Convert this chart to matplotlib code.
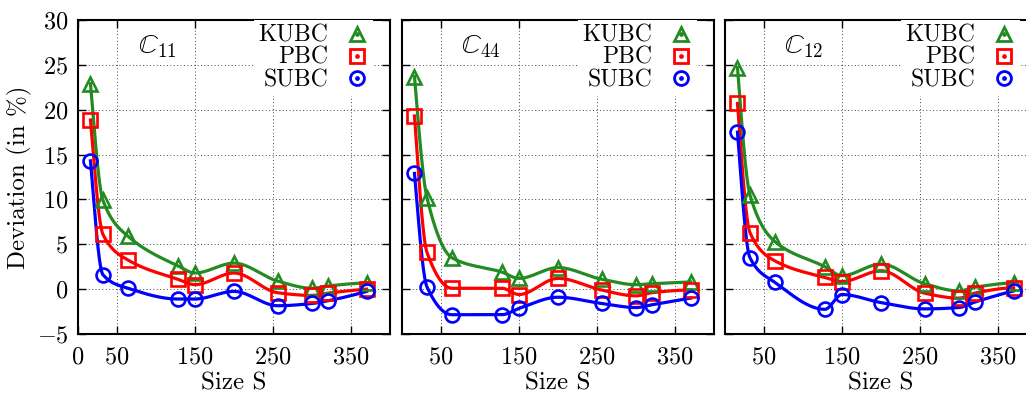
import numpy as np
import matplotlib
matplotlib.use("Agg")
import matplotlib.pyplot as plt
from matplotlib.lines import Line2D

plt.rcParams["font.family"] = ["cmr10", "DejaVu Serif"]
plt.rcParams["mathtext.fontset"] = "cm"
plt.rcParams["axes.formatter.use_mathtext"] = True

sizes = [16, 32, 64, 128, 150, 200, 256, 300, 320, 370]

c11_kubc = [22.9, 9.9, 5.9, 2.6, 1.8, 2.9, 0.9, 0.1, 0.35, 0.7]
c11_pbc = [18.85, 6.1, 3.25, 1.1, 0.5, 1.8, -0.4, -0.7, -0.45, 0.0]
c11_subc = [14.3, 1.6, 0.1, -1.1, -1.1, -0.25, -1.85, -1.6, -1.3, -0.25]

c44_kubc = [23.7, 10.2, 3.5, 1.9, 1.2, 2.4, 1.1, 0.5, 0.6, 0.8]
c44_pbc = [19.3, 4.1, 0.1, 0.1, -0.6, 1.2, -0.1, -0.75, -0.4, -0.1]
c44_subc = [12.9, 0.25, -2.85, -2.85, -2.15, -0.9, -1.6, -2.05, -1.75, -1.0]

c12_kubc = [24.7, 10.5, 5.3, 2.5, 1.5, 2.8, 0.6, -0.2, 0.2, 0.7]
c12_pbc = [20.7, 6.3, 3.15, 1.3, 0.85, 2.05, -0.45, -1.0, -0.45, 0.15]
c12_subc = [17.5, 3.5, 0.75, -2.25, -0.6, -1.5, -2.2, -2.05, -1.45, -0.2]

panel_titles = [r"$\mathbb{C}_{11}$", r"$\mathbb{C}_{44}$", r"$\mathbb{C}_{12}$"]
series_names = ["KUBC", "PBC", "SUBC"]
series_colors = ["#228b22", "#ff0000", "#0000ff"]
series_markers = ["^", "s", "o"]
yticks = [-5, 0, 5, 10, 15, 20, 25, 30]
xticks_first = [0, 50, 150, 250, 350]
xticks_other = [50, 150, 250, 350]


def pchip(x, y, xs):
    """Monotone piecewise cubic Hermite interpolation (Fritsch-Carlson)."""
    x = np.asarray(x, float)
    y = np.asarray(y, float)
    h = np.diff(x)
    d = np.diff(y) / h
    n = len(x)
    m = np.zeros(n)
    for k in range(1, n - 1):
        if d[k - 1] * d[k] > 0:
            w1 = 2 * h[k] + h[k - 1]
            w2 = h[k] + 2 * h[k - 1]
            m[k] = (w1 + w2) / (w1 / d[k - 1] + w2 / d[k])
    def end(h0, h1, d0, d1):
        v = ((2 * h0 + h1) * d0 - h0 * d1) / (h0 + h1)
        if np.sign(v) != np.sign(d0):
            v = 0.0
        elif np.sign(d0) != np.sign(d1) and abs(v) > abs(3 * d0):
            v = 3 * d0
        return v
    m[0] = end(h[0], h[1], d[0], d[1])
    m[-1] = end(h[-1], h[-2], d[-1], d[-2])
    idx = np.clip(np.searchsorted(x, xs) - 1, 0, n - 2)
    t = (xs - x[idx]) / h[idx]
    h00 = 2 * t**3 - 3 * t**2 + 1
    h10 = t**3 - 2 * t**2 + t
    h01 = -2 * t**3 + 3 * t**2
    h11 = t**3 - t**2
    return (h00 * y[idx] + h10 * h[idx] * m[idx]
            + h01 * y[idx + 1] + h11 * h[idx] * m[idx + 1])


W, H = 1026, 398
fig = plt.figure(figsize=(W / 100, H / 100), dpi=100)

lefts = [78, 402, 725]
ax_w = 312
ax_top, ax_bot = 20, 334

panels = [
    (c11_kubc, c11_pbc, c11_subc),
    (c44_kubc, c44_pbc, c44_subc),
    (c12_kubc, c12_pbc, c12_subc),
]

tick_fs = 17.5
label_fs = 18
legend_fs = 17
xs = np.linspace(sizes[0], sizes[-1], 600)

for i, (left, data) in enumerate(zip(lefts, panels)):
    ax = fig.add_axes([left / W, (H - ax_bot) / H, ax_w / W, (ax_bot - ax_top) / H])
    ax.set_xlim(0, 400)
    ax.set_ylim(-5, 30)
    for s in ax.spines.values():
        s.set_linewidth(1.5)
    xt = xticks_first if i == 0 else xticks_other
    ax.set_xticks(xt)
    ax.set_xticklabels([f"${v}$" for v in xt], fontsize=tick_fs)
    ax.set_yticks(yticks)
    if i == 0:
        ax.set_yticklabels([f"${v}$" for v in yticks], fontsize=tick_fs)
        ax.set_ylabel("Deviation (in %)", fontsize=label_fs, labelpad=3)
    else:
        ax.set_yticklabels([])
    ax.tick_params(direction="in", length=6, width=1.0, top=True, right=True)
    ax.tick_params(axis="x", pad=9)
    ax.tick_params(axis="y", pad=7)
    ax.grid(True, linestyle=(0, (1, 2.5)), color="#444444", linewidth=0.7)
    ax.set_axisbelow(True)
    ax.set_xlabel("Size S", fontsize=label_fs, labelpad=3)

    handles = []
    for vals, name, col, mk in zip(data, series_names, series_colors, series_markers):
        ax.plot(xs, pchip(sizes, vals, xs), color=col, lw=2.3, zorder=3)
        ax.plot(sizes, vals, linestyle="none", marker=mk, markersize=10,
                markerfacecolor="none", markeredgecolor=col, markeredgewidth=1.9,
                zorder=4)
        h_open = Line2D([], [], linestyle="none", marker=mk, markersize=10,
                        markerfacecolor="none", markeredgecolor=col,
                        markeredgewidth=2.0)
        h_dot = Line2D([], [], linestyle="none", marker="o", markersize=2.4,
                       markerfacecolor=col, markeredgecolor=col)
        handles.append((h_open, h_dot))

    ax.text(101, 27, panel_titles[i], fontsize=19.5, ha="center", va="center")

    leg = ax.legend(handles, series_names, loc="upper right",
                    bbox_to_anchor=(0.946, 1.0), borderaxespad=0,
                    markerfirst=False, fontsize=legend_fs, frameon=True,
                    fancybox=False, framealpha=1, edgecolor="none",
                    borderpad=0.2, labelspacing=0.0, handlelength=1.0,
                    handletextpad=0.7)
    leg.set_zorder(5)

fig.savefig("out.png", dpi=100)
